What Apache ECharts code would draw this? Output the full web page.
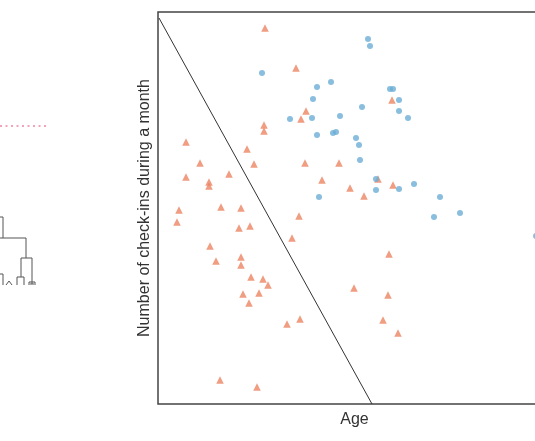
<html lang="en">
  <head>
    <meta charset="utf-8" />
    <title>Check-ins vs age</title>
    <script src="https://cdn.jsdelivr.net/npm/echarts@6/dist/echarts.min.js"></script>
    <style>
      body { margin: 0; background: #fff; }
    </style>
  </head>
  <body>
    <div id="main" style="width: 535px;height:441px;"></div>
    <script type="text/javascript">
      // [age, check-ins] pairs, units read straight off the plot box
      var orangeGroup = [
        [107, 376], [138, 336], [148, 293], [143, 285], [106, 279], [106, 273],
        [28, 262], [89, 255], [42, 241], [96, 240], [147, 241], [181, 241],
        [28, 227], [71, 230], [51, 222], [51, 218], [164, 224], [192, 216],
        [21, 194], [63, 197], [83, 196], [141, 188], [234, 304], [220, 225],
        [206, 208], [235, 219], [19, 182], [81, 176], [92, 178], [134, 166],
        [52, 158], [58, 143], [83, 147], [83, 139], [93, 127], [105, 125],
        [110, 119], [85, 110], [101, 111], [91, 101], [129, 80], [142, 85],
        [62, 24], [99, 17], [231, 150], [196, 116], [230, 109], [225, 84],
        [240, 71]
      ];
      var blueGroup = [
        [104, 331], [173, 322], [159, 317], [155, 305], [132, 285], [154, 286],
        [182, 288], [159, 269], [175, 271], [178, 272], [161, 207], [210, 365],
        [212, 358], [232, 315], [235, 315], [241, 304], [204, 297], [241, 293],
        [250, 286], [198, 266], [201, 259], [202, 244], [218, 225], [218, 214],
        [241, 215], [256, 220], [282, 207], [302, 191], [276, 187], [378, 168]
      ];
      var boundary = [[1, 386], [214, 0]];
      var xLabel = 'Age';
      var yLabel = 'Number of check-ins during a month';

      var chartDom = document.getElementById('main');
      var myChart = echarts.init(chartDom);
      var lineCol = '#555';

      var option = {
        animation: false,
        textStyle: { fontFamily: 'Liberation Sans, Arial, sans-serif' },
        grid: {
          left: 158, top: 12, width: 393, height: 392,
          outerBoundsMode: 'none',
          show: true, borderColor: '#444', borderWidth: 1.5
        },
        xAxis: {
          type: 'value', min: 0, max: 393,
          name: xLabel, nameLocation: 'middle', nameGap: 8,
          nameTextStyle: { fontSize: 16, color: '#333' },
          axisLine: { show: false }, axisTick: { show: false },
          axisLabel: { show: false }, splitLine: { show: false }
        },
        yAxis: {
          type: 'value', min: 0, max: 392,
          name: yLabel, nameLocation: 'middle', nameGap: 5,
          nameTextStyle: { fontSize: 16, color: '#333' },
          axisLine: { show: false }, axisTick: { show: false },
          axisLabel: { show: false }, splitLine: { show: false }
        },
        graphic: [
          // pieces of the neighbouring panel that spill into view
          {
            type: 'line', shape: { x1: 0, y1: 126, x2: 46, y2: 126 },
            style: { stroke: '#f2a3bb', lineWidth: 2, lineDash: [2, 3.5] }
          },
          {
            type: 'polyline',
            shape: { points: [[0, 217], [3, 217], [3, 238]] },
            style: { stroke: lineCol, lineWidth: 1, fill: null }
          },
          {
            type: 'polyline',
            shape: { points: [[0, 238], [26, 238], [26, 258]] },
            style: { stroke: lineCol, lineWidth: 1, fill: null }
          },
          {
            type: 'polyline',
            shape: { points: [[21, 277], [21, 258], [32, 258], [32, 282]] },
            style: { stroke: lineCol, lineWidth: 1, fill: null }
          },
          {
            type: 'polyline',
            shape: { points: [[17, 285], [17, 277], [24, 277], [24, 285]] },
            style: { stroke: lineCol, lineWidth: 1, fill: null }
          },
          {
            type: 'polyline',
            shape: { points: [[29, 285], [29, 282], [35, 282], [35, 285]] },
            style: { stroke: lineCol, lineWidth: 1, fill: null }
          },
          {
            type: 'polyline',
            shape: { points: [[31, 285], [31, 283], [33, 283], [33, 285]] },
            style: { stroke: lineCol, lineWidth: 1, fill: null }
          },
          {
            type: 'polyline',
            shape: { points: [[0, 274], [3, 274], [3, 285]] },
            style: { stroke: lineCol, lineWidth: 1, fill: null }
          },
          {
            type: 'polyline',
            shape: { points: [[6, 285], [9, 281], [12, 285]] },
            style: { stroke: lineCol, lineWidth: 1, fill: null }
          }
        ],
        series: [
          {
            type: 'line',
            data: boundary,
            symbol: 'none',
            lineStyle: { color: '#333', width: 1 },
            z: 1
          },
          {
            type: 'scatter',
            data: orangeGroup,
            symbol: 'triangle',
            symbolSize: 7.5,
            itemStyle: { color: '#ec8461' },
            z: 3
          },
          {
            type: 'scatter',
            data: blueGroup,
            symbol: 'circle',
            symbolSize: 6,
            itemStyle: { color: '#6caed6' },
            z: 3
          }
        ]
      };

      option && myChart.setOption(option);
    </script>
  </body>
</html>
